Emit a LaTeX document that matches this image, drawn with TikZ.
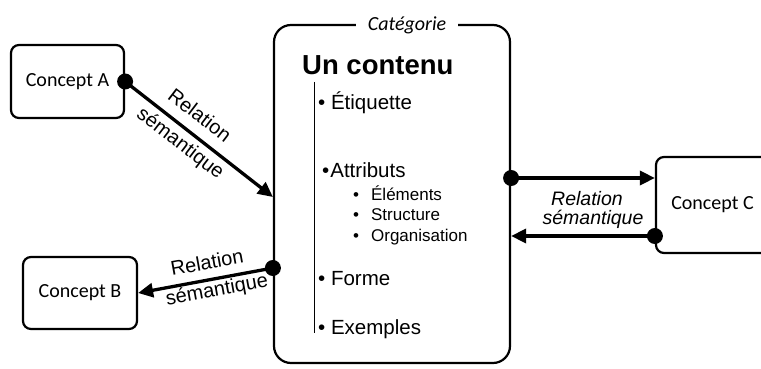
\documentclass[tikz,border=0pt]{standalone}
\usepackage{fontspec}
\setmainfont{Liberation Sans}
\newfontfamily\cali{Carlito}
\usetikzlibrary{arrows.meta,calc}
\begin{document}
\begin{tikzpicture}[x=1pt,y=-1pt,
  concept/.style={draw, line width=2.2pt, rounded corners=8pt, inner sep=0pt,
    font=\cali\fontsize{20}{24}\selectfont},
  mainbox/.style={draw, line width=2.2pt, rounded corners=17pt, inner sep=0pt,
    minimum width=236pt, minimum height=338pt},
  rel/.style={line width=3.3pt, -{Triangle[length=15pt,width=14pt]}},
  dot/.style={circle, fill=black, inner sep=0pt, minimum size=16pt},
  lab/.style={font=\fontsize{20}{24}\selectfont, inner sep=0pt},
  itlab/.style={font=\itshape\fontsize{19.5}{24}\selectfont, inner sep=0pt},
  item/.style={anchor=base west, inner sep=0pt, font=\fontsize{20.5}{24}\selectfont},
  subitem/.style={anchor=base west, inner sep=0pt, font=\fontsize{17}{20}\selectfont},
]
\useasboundingbox (0,0) rectangle (761,369);

% concepts
\node[concept, minimum width=113pt, minimum height=73pt] (A) at (67.5,81.5) {Concept A};
\node[concept, minimum width=114pt, minimum height=72pt] (B) at (80,293) {Concept B};
\node[concept, minimum width=113pt, minimum height=96pt] (C) at (712.5,205) {Concept C};

% main box
\node[mainbox] (main) at (392,194) {};
\node[fill=white, inner xsep=12pt, inner ysep=2pt, font=\cali\itshape\fontsize{20}{24}\selectfont] (cat) at (407,25) {Catégorie};

\node[anchor=base west, inner sep=0pt, font=\bfseries\fontsize{27.5}{30}\selectfont] (title) at (302,75) {Un contenu};
\coordinate (vtop) at (314,82);
\coordinate (vbot) at (314,333);
\draw[line width=0.8pt] (vtop) -- (vbot);

\node[item] (i1) at (318,110) {• Étiquette};
\node[item] (i2) at (322,177) {•\hspace{1pt}Attributs};
\node[subitem] (s1) at (353,200) {•\hspace{12pt}Éléments};
\node[subitem] (s2) at (353,220) {•\hspace{12pt}Structure};
\node[subitem] (s3) at (353,241) {•\hspace{12pt}Organisation};
\node[item] (i3) at (318,285) {• Forme};
\node[item] (i4) at (318,334) {• Exemples};

% connectors
\coordinate (pB) at ($(main.west)+(0,74)$);
\coordinate (pC1) at ($(main.east)+(0,-16)$);
\coordinate (pC2) at ($(C.west)+(0,31)$);
\draw[rel] (A.east) -- ($(main.west)+(0,3)$);
\draw[rel] (pB) -- (B.east);
\draw[rel] (pC1) -- (C.west |- pC1);
\draw[rel] (pC2) -- (main.east |- pC2);
\node[dot] (dA) at (A.east) {};
\node[dot] (dB) at (pB) {};
\node[dot] (dC1) at (pC1) {};
\node[dot] (dC2) at (pC2) {};

% labels
\node[lab, rotate=-37.4] (la1) at (200,115) {Relation};
\node[lab, rotate=-37.4] (la2) at (180,144) {sémantique};
\node[lab, rotate=10.3] (lb1) at (207,262) {Relation};
\node[lab, rotate=10.3] (lb2) at (217,291) {sémantique};
\node[itlab] (lc1) at (587,199) {Relation};
\node[itlab] (lc2) at (593,219) {sémantique};
\end{tikzpicture}
\end{document}
